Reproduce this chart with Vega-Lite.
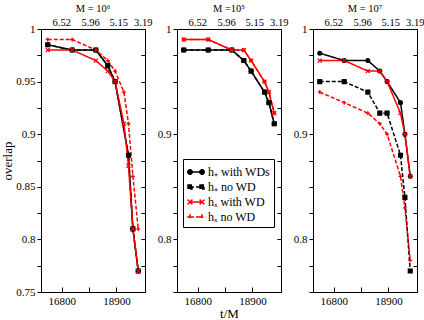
{
  "$schema": "https://vega.github.io/schema/vega-lite/v6.json",
  "background": "white",
  "padding": {"left": 1, "top": 3, "right": 0, "bottom": 3},
  "config": {
    "view": {"stroke": "black", "strokeWidth": 1},
    "font": "Liberation Serif",
    "axis": {"grid": false, "domainColor": "black", "tickColor": "black", "labelColor": "black", "labelFont": "Liberation Serif", "labelFontSize": 11, "titleFont": "Liberation Serif", "titleFontWeight": "normal", "titleFontSize": 13, "titleColor": "black", "labelFlush": false, "labelOverlap": false},
    "title": {"font": "Liberation Serif", "fontSize": 10.5, "fontWeight": "normal", "color": "black", "anchor": "middle"}
  },
  "datasets": {
    "d": [
      {"panel": 1, "series": "h₊ with WDs", "t": 16260, "overlap": 0.985},
      {"panel": 1, "series": "h₊ with WDs", "t": 17200, "overlap": 0.98},
      {"panel": 1, "series": "h₊ with WDs", "t": 18110, "overlap": 0.98},
      {"panel": 1, "series": "h₊ with WDs", "t": 18570, "overlap": 0.965},
      {"panel": 1, "series": "h₊ with WDs", "t": 18850, "overlap": 0.95},
      {"panel": 1, "series": "h₊ with WDs", "t": 19365, "overlap": 0.88},
      {"panel": 1, "series": "h₊ with WDs", "t": 19535, "overlap": 0.81},
      {"panel": 1, "series": "h₊ with WDs", "t": 19740, "overlap": 0.77},
      {"panel": 1, "series": "h₊ no WD", "t": 16260, "overlap": 0.985},
      {"panel": 1, "series": "h₊ no WD", "t": 17200, "overlap": 0.98},
      {"panel": 1, "series": "h₊ no WD", "t": 18110, "overlap": 0.98},
      {"panel": 1, "series": "h₊ no WD", "t": 18570, "overlap": 0.965},
      {"panel": 1, "series": "h₊ no WD", "t": 18850, "overlap": 0.95},
      {"panel": 1, "series": "h₊ no WD", "t": 19365, "overlap": 0.88},
      {"panel": 1, "series": "h₊ no WD", "t": 19535, "overlap": 0.81},
      {"panel": 1, "series": "h₊ no WD", "t": 19740, "overlap": 0.77},
      {"panel": 1, "series": "hₓ with WD", "t": 16260, "overlap": 0.98},
      {"panel": 1, "series": "hₓ with WD", "t": 17200, "overlap": 0.98},
      {"panel": 1, "series": "hₓ with WD", "t": 18110, "overlap": 0.97},
      {"panel": 1, "series": "hₓ with WD", "t": 18570, "overlap": 0.96},
      {"panel": 1, "series": "hₓ with WD", "t": 18850, "overlap": 0.95},
      {"panel": 1, "series": "hₓ with WD", "t": 19190, "overlap": 0.91},
      {"panel": 1, "series": "hₓ with WD", "t": 19365, "overlap": 0.87},
      {"panel": 1, "series": "hₓ with WD", "t": 19535, "overlap": 0.81},
      {"panel": 1, "series": "hₓ with WD", "t": 19740, "overlap": 0.77},
      {"panel": 1, "series": "hₓ no WD", "t": 16260, "overlap": 0.99},
      {"panel": 1, "series": "hₓ no WD", "t": 17200, "overlap": 0.99},
      {"panel": 1, "series": "hₓ no WD", "t": 18110, "overlap": 0.98},
      {"panel": 1, "series": "hₓ no WD", "t": 18570, "overlap": 0.97},
      {"panel": 1, "series": "hₓ no WD", "t": 18850, "overlap": 0.96},
      {"panel": 1, "series": "hₓ no WD", "t": 19190, "overlap": 0.94},
      {"panel": 1, "series": "hₓ no WD", "t": 19365, "overlap": 0.91},
      {"panel": 1, "series": "hₓ no WD", "t": 19535, "overlap": 0.86},
      {"panel": 1, "series": "hₓ no WD", "t": 19740, "overlap": 0.81},

      {"panel": 2, "series": "h₊ with WDs", "t": 16260, "overlap": 0.98},
      {"panel": 2, "series": "h₊ with WDs", "t": 17200, "overlap": 0.98},
      {"panel": 2, "series": "h₊ with WDs", "t": 18110, "overlap": 0.98},
      {"panel": 2, "series": "h₊ with WDs", "t": 18570, "overlap": 0.97},
      {"panel": 2, "series": "h₊ with WDs", "t": 18850, "overlap": 0.96},
      {"panel": 2, "series": "h₊ with WDs", "t": 19365, "overlap": 0.94},
      {"panel": 2, "series": "h₊ with WDs", "t": 19535, "overlap": 0.93},
      {"panel": 2, "series": "h₊ with WDs", "t": 19740, "overlap": 0.91},
      {"panel": 2, "series": "h₊ no WD", "t": 16260, "overlap": 0.98},
      {"panel": 2, "series": "h₊ no WD", "t": 17200, "overlap": 0.98},
      {"panel": 2, "series": "h₊ no WD", "t": 18110, "overlap": 0.98},
      {"panel": 2, "series": "h₊ no WD", "t": 18570, "overlap": 0.97},
      {"panel": 2, "series": "h₊ no WD", "t": 18850, "overlap": 0.96},
      {"panel": 2, "series": "h₊ no WD", "t": 19365, "overlap": 0.94},
      {"panel": 2, "series": "h₊ no WD", "t": 19535, "overlap": 0.93},
      {"panel": 2, "series": "h₊ no WD", "t": 19740, "overlap": 0.91},
      {"panel": 2, "series": "hₓ with WD", "t": 16260, "overlap": 0.99},
      {"panel": 2, "series": "hₓ with WD", "t": 17200, "overlap": 0.99},
      {"panel": 2, "series": "hₓ with WD", "t": 18110, "overlap": 0.98},
      {"panel": 2, "series": "hₓ with WD", "t": 18570, "overlap": 0.98},
      {"panel": 2, "series": "hₓ with WD", "t": 18850, "overlap": 0.97},
      {"panel": 2, "series": "hₓ with WD", "t": 19365, "overlap": 0.95},
      {"panel": 2, "series": "hₓ with WD", "t": 19535, "overlap": 0.94},
      {"panel": 2, "series": "hₓ with WD", "t": 19740, "overlap": 0.92},
      {"panel": 2, "series": "hₓ no WD", "t": 16260, "overlap": 0.99},
      {"panel": 2, "series": "hₓ no WD", "t": 17200, "overlap": 0.99},
      {"panel": 2, "series": "hₓ no WD", "t": 18110, "overlap": 0.98},
      {"panel": 2, "series": "hₓ no WD", "t": 18570, "overlap": 0.98},
      {"panel": 2, "series": "hₓ no WD", "t": 18850, "overlap": 0.97},
      {"panel": 2, "series": "hₓ no WD", "t": 19365, "overlap": 0.95},
      {"panel": 2, "series": "hₓ no WD", "t": 19535, "overlap": 0.94},
      {"panel": 2, "series": "hₓ no WD", "t": 19740, "overlap": 0.92},

      {"panel": 3, "series": "h₊ with WDs", "t": 16260, "overlap": 0.977},
      {"panel": 3, "series": "h₊ with WDs", "t": 17200, "overlap": 0.97},
      {"panel": 3, "series": "h₊ with WDs", "t": 18110, "overlap": 0.97},
      {"panel": 3, "series": "h₊ with WDs", "t": 18570, "overlap": 0.96},
      {"panel": 3, "series": "h₊ with WDs", "t": 18850, "overlap": 0.95},
      {"panel": 3, "series": "h₊ with WDs", "t": 19365, "overlap": 0.93},
      {"panel": 3, "series": "h₊ with WDs", "t": 19535, "overlap": 0.90},
      {"panel": 3, "series": "h₊ with WDs", "t": 19740, "overlap": 0.86},
      {"panel": 3, "series": "h₊ no WD", "t": 16260, "overlap": 0.95},
      {"panel": 3, "series": "h₊ no WD", "t": 17200, "overlap": 0.95},
      {"panel": 3, "series": "h₊ no WD", "t": 18110, "overlap": 0.94},
      {"panel": 3, "series": "h₊ no WD", "t": 18570, "overlap": 0.92},
      {"panel": 3, "series": "h₊ no WD", "t": 18850, "overlap": 0.92},
      {"panel": 3, "series": "h₊ no WD", "t": 19365, "overlap": 0.88},
      {"panel": 3, "series": "h₊ no WD", "t": 19535, "overlap": 0.84},
      {"panel": 3, "series": "h₊ no WD", "t": 19740, "overlap": 0.77},
      {"panel": 3, "series": "hₓ with WD", "t": 16260, "overlap": 0.97},
      {"panel": 3, "series": "hₓ with WD", "t": 17200, "overlap": 0.97},
      {"panel": 3, "series": "hₓ with WD", "t": 18110, "overlap": 0.96},
      {"panel": 3, "series": "hₓ with WD", "t": 18570, "overlap": 0.96},
      {"panel": 3, "series": "hₓ with WD", "t": 18850, "overlap": 0.95},
      {"panel": 3, "series": "hₓ with WD", "t": 19365, "overlap": 0.92},
      {"panel": 3, "series": "hₓ with WD", "t": 19535, "overlap": 0.90},
      {"panel": 3, "series": "hₓ with WD", "t": 19740, "overlap": 0.86},
      {"panel": 3, "series": "hₓ no WD", "t": 16260, "overlap": 0.94},
      {"panel": 3, "series": "hₓ no WD", "t": 17200, "overlap": 0.93},
      {"panel": 3, "series": "hₓ no WD", "t": 18110, "overlap": 0.92},
      {"panel": 3, "series": "hₓ no WD", "t": 18570, "overlap": 0.91},
      {"panel": 3, "series": "hₓ no WD", "t": 18850, "overlap": 0.90},
      {"panel": 3, "series": "hₓ no WD", "t": 19365, "overlap": 0.86},
      {"panel": 3, "series": "hₓ no WD", "t": 19535, "overlap": 0.83},
      {"panel": 3, "series": "hₓ no WD", "t": 19740, "overlap": 0.78}
    ]
  },
  "spacing": 32,
  "bounds": "flush",
  "resolve": {"scale": {"stroke": "independent", "strokeDash": "independent", "shape": "independent", "fill": "independent", "size": "independent"}},
  "hconcat": [
    {
      "width": 104, "height": 263,
      "title": {"text": "M = 10⁶", "offset": 3},
      "data": {"name": "d"},
      "transform": [{"filter": "datum.panel == 1"}],
      "layer": [
        {
          "mark": {"type": "line", "strokeWidth": 1.5},
          "encoding": {
            "x": {"field": "t", "type": "quantitative", "scale": {"domain": [16000, 20000], "nice": false, "zero": false},
                  "axis": {"orient": "bottom", "values": [16800, 17850, 18900], "format": "d", "labelExpr": "datum.value == 17850 ? '' : datum.label", "tickSize": -5, "labelPadding": 8, "title": null}},
            "y": {"field": "overlap", "type": "quantitative", "scale": {"domain": [0.75, 1], "nice": false, "zero": false},
                  "axis": {"orient": "left", "values": [0.75, 0.775, 0.8, 0.825, 0.85, 0.875, 0.9, 0.925, 0.95, 0.975, 1], "format": "~g", "labelExpr": "abs(datum.value*20 - round(datum.value*20)) < 0.01 ? datum.label : ''", "tickSize": 4, "labelPadding": 2, "title": "overlap", "titlePadding": 1}},
            "stroke": {"field": "series", "type": "nominal", "scale": {"domain": ["h₊ with WDs", "h₊ no WD", "hₓ with WD", "hₓ no WD"], "range": ["black", "black", "red", "red"]}, "legend": null},
            "strokeDash": {"field": "series", "type": "nominal", "scale": {"domain": ["h₊ with WDs", "h₊ no WD", "hₓ with WD", "hₓ no WD"], "range": [[1, 0], [4, 2], [1, 0], [4, 2]]}, "legend": null}
          }
        },
        {
          "mark": {"type": "point", "strokeWidth": 1.3, "opacity": 1},
          "encoding": {
            "x": {"field": "t", "type": "quantitative", "scale": {"domain": [16000, 20000], "nice": false, "zero": false},
                  "axis": {"orient": "top", "values": [16780, 17890, 18970, 19915], "labelExpr": "datum.value == 16780 ? '6.52' : datum.value == 17890 ? '5.96' : datum.value == 18970 ? '5.15' : '3.19'", "ticks": false, "domain": false, "labelPadding": 2, "labelFontSize": 10.5, "title": null}},
            "y": {"field": "overlap", "type": "quantitative", "scale": {"domain": [0.75, 1], "nice": false, "zero": false},
                  "axis": {"orient": "right", "values": [0.75, 0.775, 0.8, 0.825, 0.85, 0.875, 0.9, 0.925, 0.95, 0.975, 1], "labels": false, "tickSize": -4, "domain": false, "title": null}},
            "shape": {"field": "series", "type": "nominal", "scale": {"domain": ["h₊ with WDs", "h₊ no WD", "hₓ with WD", "hₓ no WD"], "range": ["circle", "square", "M-1,-1L1,1M-1,1L1,-1", "M-1,0L1,0M0,-1L0,1"]}, "legend": null},
            "fill": {"field": "series", "type": "nominal", "scale": {"domain": ["h₊ with WDs", "h₊ no WD", "hₓ with WD", "hₓ no WD"], "range": ["black", "black", "transparent", "transparent"]}, "legend": null},
            "stroke": {"field": "series", "type": "nominal", "scale": {"domain": ["h₊ with WDs", "h₊ no WD", "hₓ with WD", "hₓ no WD"], "range": ["black", "black", "red", "red"]}, "legend": null},
            "size": {"field": "series", "type": "nominal", "scale": {"domain": ["h₊ with WDs", "h₊ no WD", "hₓ with WD", "hₓ no WD"], "range": [14, 16, 36, 49]}, "legend": null}
          }
        }
      ],
      "resolve": {"axis": {"x": "independent", "y": "independent"}}
    },
    {
      "width": 104, "height": 263,
      "title": {"text": "M =10⁵", "offset": 3},
      "data": {"name": "d"},
      "transform": [{"filter": "datum.panel == 2"}],
      "layer": [
        {
          "mark": {"type": "line", "strokeWidth": 1.5},
          "encoding": {
            "x": {"field": "t", "type": "quantitative", "scale": {"domain": [16000, 20000], "nice": false, "zero": false},
                  "axis": {"orient": "bottom", "values": [16800, 17850, 18900], "format": "d", "labelExpr": "datum.value == 17850 ? '' : datum.label", "tickSize": -5, "labelPadding": 8, "title": "t/M", "titlePadding": 1}},
            "y": {"field": "overlap", "type": "quantitative", "scale": {"domain": [0.75, 1], "nice": false, "zero": false},
                  "axis": {"orient": "left", "values": [0.75, 0.775, 0.8, 0.825, 0.85, 0.875, 0.9, 0.925, 0.95, 0.975, 1], "format": "~g", "labelExpr": "abs(datum.value*10 - round(datum.value*10)) < 0.01 ? datum.label : ''", "tickSize": 4, "labelPadding": 2, "title": null}},
            "stroke": {"field": "series", "type": "nominal", "scale": {"domain": ["h₊ with WDs", "h₊ no WD", "hₓ with WD", "hₓ no WD", "-"], "range": ["black", "black", "red", "red", "gray"]}, "legend": null},
            "strokeDash": {"field": "series", "type": "nominal", "scale": {"domain": ["h₊ with WDs", "h₊ no WD", "hₓ with WD", "hₓ no WD"], "range": [[1, 0], [4, 2], [1, 0], [4, 2]]},
                       "legend": {"orient": "none", "legendX": 6, "legendY": 130, "title": null, "strokeColor": "black", "fillColor": "white", "padding": 4, "symbolSize": 256, "symbolStrokeWidth": 1.5, "symbolType": "M-0.75,0L0.75,0", "labelFontSize": 12, "labelFont": "Liberation Serif", "labelColor": "black", "rowPadding": 0, "labelOffset": 3, "cornerRadius": 0,
                                  "encode": {"symbols": {"update": {
                                    "shape": {"signal": "datum.index == 0 ? 'M-0.75,0L0.75,0M-1.03,0a0.28,0.28 0 1,0 0.56,0a0.28,0.28 0 1,0 -0.56,0M0.47,0a0.28,0.28 0 1,0 0.56,0a0.28,0.28 0 1,0 -0.56,0' : datum.index == 1 ? 'M-0.75,0L0.75,0M-1,-0.25h0.5v0.5h-0.5zM0.5,-0.25h0.5v0.5h-0.5z' : datum.index == 2 ? 'M-0.75,0L0.75,0M-1.05,-0.3L-0.45,0.3M-1.05,0.3L-0.45,-0.3M0.45,-0.3L1.05,0.3M0.45,0.3L1.05,-0.3' : 'M-0.75,0L0.75,0M-1.1,0L-0.4,0M-0.75,-0.35L-0.75,0.35M0.4,0L1.1,0M0.75,-0.35L0.75,0.35'"},
                                    "fill": {"signal": "datum.index < 2 ? 'black' : 'transparent'"},
                                    "stroke": {"signal": "datum.index < 2 ? 'black' : 'red'"},
                                    "strokeDash": {"signal": "datum.index == 1 || datum.index == 3 ? [3, 2] : [1, 0]"}
                                  }}}}}
          }
        },
        {
          "mark": {"type": "point", "strokeWidth": 1.3, "opacity": 1},
          "encoding": {
            "x": {"field": "t", "type": "quantitative", "scale": {"domain": [16000, 20000], "nice": false, "zero": false},
                  "axis": {"orient": "top", "values": [16780, 17890, 18970, 19915], "labelExpr": "datum.value == 16780 ? '6.52' : datum.value == 17890 ? '5.96' : datum.value == 18970 ? '5.15' : '3.19'", "ticks": false, "domain": false, "labelPadding": 2, "labelFontSize": 10.5, "title": null}},
            "y": {"field": "overlap", "type": "quantitative", "scale": {"domain": [0.75, 1], "nice": false, "zero": false},
                  "axis": {"orient": "right", "values": [0.75, 0.775, 0.8, 0.825, 0.85, 0.875, 0.9, 0.925, 0.95, 0.975, 1], "labels": false, "tickSize": -4, "domain": false, "title": null}},
            "shape": {"field": "series", "type": "nominal", "scale": {"domain": ["h₊ with WDs", "h₊ no WD", "hₓ with WD", "hₓ no WD", "-"], "range": ["circle", "square", "M-1,-1L1,1M-1,1L1,-1", "M-1,0L1,0M0,-1L0,1", "circle"]}, "legend": null},
            "fill": {"field": "series", "type": "nominal", "scale": {"domain": ["h₊ with WDs", "h₊ no WD", "hₓ with WD", "hₓ no WD", "-"], "range": ["black", "black", "transparent", "transparent", "gray"]}, "legend": null},
            "stroke": {"field": "series", "type": "nominal", "scale": {"domain": ["h₊ with WDs", "h₊ no WD", "hₓ with WD", "hₓ no WD", "-"], "range": ["black", "black", "red", "red", "gray"]}, "legend": null},
            "size": {"field": "series", "type": "nominal", "scale": {"domain": ["h₊ with WDs", "h₊ no WD", "hₓ with WD", "hₓ no WD", "-"], "range": [14, 16, 36, 49, 10]}, "legend": null}
          }
        }
      ],
      "resolve": {"axis": {"x": "independent", "y": "independent"}}
    },
    {
      "width": 104, "height": 263,
      "title": {"text": "M = 10⁷", "offset": 3},
      "data": {"name": "d"},
      "transform": [{"filter": "datum.panel == 3"}],
      "layer": [
        {
          "mark": {"type": "line", "strokeWidth": 1.5},
          "encoding": {
            "x": {"field": "t", "type": "quantitative", "scale": {"domain": [16000, 20000], "nice": false, "zero": false},
                  "axis": {"orient": "bottom", "values": [16800, 17850, 18900], "format": "d", "labelExpr": "datum.value == 17850 ? '' : datum.label", "tickSize": -5, "labelPadding": 8, "title": null}},
            "y": {"field": "overlap", "type": "quantitative", "scale": {"domain": [0.75, 1], "nice": false, "zero": false},
                  "axis": {"orient": "left", "values": [0.75, 0.775, 0.8, 0.825, 0.85, 0.875, 0.9, 0.925, 0.95, 0.975, 1], "format": "~g", "labelExpr": "abs(datum.value*10 - round(datum.value*10)) < 0.01 ? datum.label : ''", "tickSize": 4, "labelPadding": 2, "title": null}},
            "stroke": {"field": "series", "type": "nominal", "scale": {"domain": ["h₊ with WDs", "h₊ no WD", "hₓ with WD", "hₓ no WD"], "range": ["black", "black", "red", "red"]}, "legend": null},
            "strokeDash": {"field": "series", "type": "nominal", "scale": {"domain": ["h₊ with WDs", "h₊ no WD", "hₓ with WD", "hₓ no WD"], "range": [[1, 0], [4, 2], [1, 0], [4, 2]]}, "legend": null}
          }
        },
        {
          "mark": {"type": "point", "strokeWidth": 1.3, "opacity": 1},
          "encoding": {
            "x": {"field": "t", "type": "quantitative", "scale": {"domain": [16000, 20000], "nice": false, "zero": false},
                  "axis": {"orient": "top", "values": [16780, 17890, 18970, 19915], "labelExpr": "datum.value == 16780 ? '6.52' : datum.value == 17890 ? '5.96' : datum.value == 18970 ? '5.15' : '3.19'", "ticks": false, "domain": false, "labelPadding": 2, "labelFontSize": 10.5, "title": null}},
            "y": {"field": "overlap", "type": "quantitative", "scale": {"domain": [0.75, 1], "nice": false, "zero": false},
                  "axis": {"orient": "right", "values": [0.75, 0.775, 0.8, 0.825, 0.85, 0.875, 0.9, 0.925, 0.95, 0.975, 1], "labels": false, "tickSize": -4, "domain": false, "title": null}},
            "shape": {"field": "series", "type": "nominal", "scale": {"domain": ["h₊ with WDs", "h₊ no WD", "hₓ with WD", "hₓ no WD"], "range": ["circle", "square", "M-1,-1L1,1M-1,1L1,-1", "M-1,0L1,0M0,-1L0,1"]}, "legend": null},
            "fill": {"field": "series", "type": "nominal", "scale": {"domain": ["h₊ with WDs", "h₊ no WD", "hₓ with WD", "hₓ no WD"], "range": ["black", "black", "transparent", "transparent"]}, "legend": null},
            "stroke": {"field": "series", "type": "nominal", "scale": {"domain": ["h₊ with WDs", "h₊ no WD", "hₓ with WD", "hₓ no WD"], "range": ["black", "black", "red", "red"]}, "legend": null},
            "size": {"field": "series", "type": "nominal", "scale": {"domain": ["h₊ with WDs", "h₊ no WD", "hₓ with WD", "hₓ no WD"], "range": [14, 16, 36, 49]}, "legend": null}
          }
        }
      ],
      "resolve": {"axis": {"x": "independent", "y": "independent"}}
    }
  ]
}
